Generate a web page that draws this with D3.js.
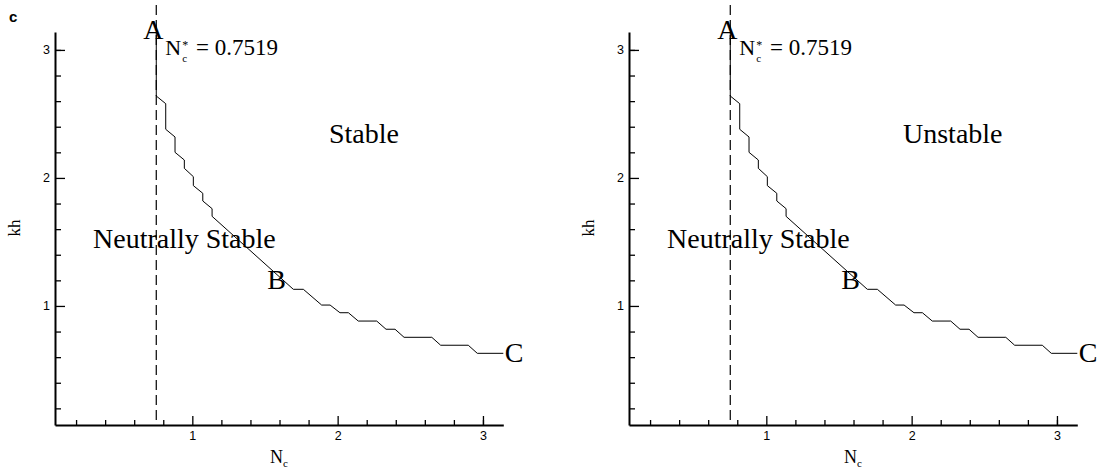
<!DOCTYPE html>
<html>
<head>
<meta charset="utf-8">
<script src="https://cdn.jsdelivr.net/npm/d3@7"></script>
<style>
  body { margin: 0; background: #fff; }
  svg { display: block; }
  .serif { font-family: "Liberation Serif", "Times New Roman", serif; }
  .tick text { font-family: "Liberation Sans", Arial, sans-serif; font-size: 12.5px; fill: #000; }
</style>
</head>
<body>
<script>
// critical value of N_c
var criticalN = 0.7519;

// stability boundary, N_c vs kh
var boundaryN  = [0.7519, 0.7519, 0.817, 0.817, 0.881, 0.881, 0.945, 0.945, 1.007, 1.007, 1.072, 1.072, 1.136, 1.136,
                  1.695, 1.764, 1.890, 1.948, 2.016, 2.074, 2.142, 2.269, 2.333, 2.395, 2.457, 2.648, 2.709, 2.899, 2.961, 3.14];
var boundaryKh = [3.14, 2.64, 2.58, 2.38, 2.32, 2.20, 2.14, 2.075, 2.01, 1.94, 1.88, 1.82, 1.76, 1.70,
                  1.13, 1.13, 1.007, 1.007, 0.947, 0.947, 0.882, 0.882, 0.818, 0.818, 0.755, 0.755, 0.693, 0.693, 0.630, 0.630];

var majorTicks = [1, 2, 3];
var minorTicks = [0.2, 0.4, 0.6, 0.8, 1.2, 1.4, 1.6, 1.8, 2.2, 2.4, 2.6, 2.8, 3.0];

var panelNames = ["Stable", "Unstable"];

var width = 1105, height = 474;
var svg = d3.select("body").append("svg")
    .attr("width", width)
    .attr("height", height);

svg.append("text")
    .attr("x", 9)
    .attr("y", 22)
    .style("font-family", "Liberation Sans, Arial, sans-serif")
    .style("font-weight", "bold")
    .style("font-size", "15px")
    .text("c");

var points = boundaryN.map(function (n, i) { return [n, boundaryKh[i]]; });

var drawPanel = function (offsetX, name) {
    var x = d3.scaleLinear().domain([0.055, 3.14]).range([offsetX + 55, offsetX + 503.3]);
    var y = d3.scaleLinear().domain([0.07, 3.14]).range([425, 32]);

    var g = svg.append("g");

    // minor ticks
    g.append("g")
        .attr("transform", "translate(0,425)")
        .call(d3.axisBottom(x).tickValues(minorTicks).tickSize(-5).tickFormat(""))
        .call(function (s) { s.select(".domain").remove(); });
    g.append("g")
        .attr("transform", "translate(" + (offsetX + 55) + ",0)")
        .call(d3.axisLeft(y).tickValues(minorTicks).tickSize(-6).tickFormat(""))
        .call(function (s) { s.select(".domain").remove(); });

    // major ticks + labels
    var xAxis = g.append("g")
        .attr("transform", "translate(0,425)")
        .call(d3.axisBottom(x).tickValues(majorTicks).tickSize(-9).tickSizeOuter(0).tickPadding(6).tickFormat(d3.format("d")));
    var yAxis = g.append("g")
        .attr("transform", "translate(" + (offsetX + 55) + ",0)")
        .call(d3.axisLeft(y).tickValues(majorTicks).tickSize(-10).tickSizeOuter(0).tickPadding(5).tickFormat(d3.format("d")));

    g.selectAll(".tick line").attr("stroke", "#000").attr("stroke-width", 1.3);
    xAxis.select(".domain").attr("stroke-width", 2);
    yAxis.select(".domain").attr("stroke-width", 2);

    // critical N line
    g.append("line")
        .attr("x1", x(criticalN)).attr("x2", x(criticalN))
        .attr("y1", y(3.35)).attr("y2", y(0.07))
        .attr("stroke", "#000")
        .attr("stroke-width", 1.2)
        .attr("stroke-dasharray", "10,5");

    // boundary curve
    var line = d3.line()
        .x(function (d) { return x(d[0]); })
        .y(function (d) { return y(d[1]); });
    g.append("path")
        .datum(points)
        .attr("d", line)
        .attr("fill", "none")
        .attr("stroke", "#000")
        .attr("stroke-width", 1);

    // axis titles
    var xt = g.append("text").attr("class", "serif")
        .attr("x", offsetX + 279).attr("y", 463)
        .attr("text-anchor", "middle")
        .style("font-size", "18px");
    xt.append("tspan").text("N");
    xt.append("tspan").attr("dy", 4).style("font-size", "11px").text("c");

    g.append("text").attr("class", "serif")
        .attr("transform", "translate(" + (offsetX + 20) + ",228) rotate(-90)")
        .attr("text-anchor", "middle")
        .style("font-size", "17px")
        .text("kh");

    // annotations
    var big = function (tx, ty, str) {
        return g.append("text").attr("class", "serif")
            .attr("x", tx).attr("y", ty)
            .style("font-size", "28px")
            .text(str);
    };
    big(x(criticalN) - 13, 39, "A");
    big(offsetX + 93, 248, "Neutrally Stable");
    big(x(1.515), 289, "B");
    big(x(3.15), 362, "C");
    big(offsetX + 329, 143, name);

    // N*_c = 0.7519 as one text with stacked sup/sub
    var nLabel = g.append("text").attr("class", "serif")
        .attr("x", x(criticalN) + 9).attr("y", 55)
        .style("font-size", "22px");
    nLabel.append("tspan").text("N");
    nLabel.append("tspan").attr("dx", 1).attr("dy", -6).style("font-size", "12px").text("*");
    nLabel.append("tspan").attr("dx", -6).attr("dy", 13).style("font-size", "11px").text("c");
    nLabel.append("tspan").attr("dx", 9).attr("dy", -7).style("font-size", "23px").text("= 0.7519");
};

drawPanel(0, panelNames[0]);
drawPanel(574, panelNames[1]);
</script>
</body>
</html>
